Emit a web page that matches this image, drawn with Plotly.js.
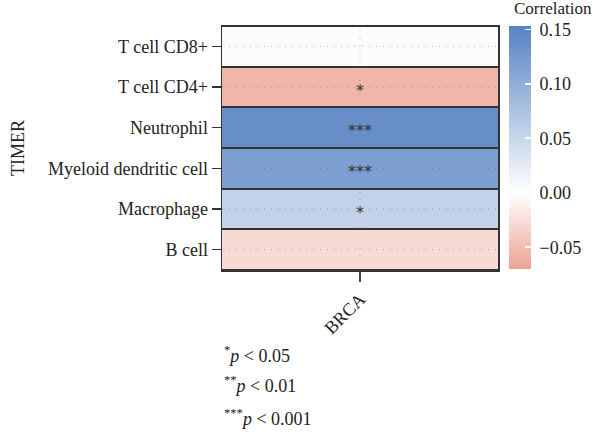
<!DOCTYPE html>
<html>
<head>
<meta charset="utf-8">
<script src="https://cdn.plot.ly/plotly-3.0.1.min.js"></script>
<style>html,body{margin:0;padding:0;background:#fff;}#chart{width:600px;height:434px;}</style>
</head>
<body>
<div id="chart"></div>
<script>
// Data
const cellTypes = ["T cell CD8+", "T cell CD4+", "Neutrophil", "Myeloid dendritic cell", "Macrophage", "B cell"];
const cancers = ["BRCA"];
const correlations = [0.004, -0.055, 0.138, 0.118, 0.055, -0.028];
const stars = ["", "*", "***", "***", "*", ""];
const cbTickVals = [-0.05, 0.00, 0.05, 0.10, 0.15];
const cbTickText = ["\u22120.05", "0.00", "0.05", "0.10", "0.15"];
const legendLines = ["<sup>*</sup><i>p</i> &lt; 0.05", "<sup>**</sup><i>p</i> &lt; 0.01", "<sup>***</sup><i>p</i> &lt; 0.001"];

const cmin = -0.070, cmax = 0.153;
const zeroPos = (0 - cmin) / (cmax - cmin);
const FONT = "Liberation Serif, Times New Roman, serif";
const FS = 18;

const trace = {
  type: "heatmap",
  x: cancers,
  y: cellTypes,
  z: correlations.map(v => [v]),
  zmin: cmin, zmax: cmax,
  colorscale: [[0, "#EBA393"], [zeroPos, "#FFFFFF"], [1, "#5782C3"]],
  ygap: 2,
  hoverinfo: "skip",
  colorbar: {
    thickness: 22, thicknessmode: "pixels",
    len: 243, lenmode: "pixels",
    x: 1.04, xanchor: "left", xpad: 0, xref: "paper",
    y: 1, yanchor: "top", ypad: 0,
    outlinewidth: 0,
    tickvals: cbTickVals, ticktext: cbTickText.map(t => "\u00a0" + t),
    ticks: "inside", ticklen: 6, tickcolor: "#fff", tickwidth: 1.5,
    tickfont: {family: FONT, size: FS, color: "#222"}
  }
};

const shapes = [];
const dotLine = {color: "rgba(90,90,90,0.45)", width: 1, dash: "1px,6px"};
cellTypes.forEach((c, i) => {
  shapes.push({type: "line", xref: "x domain", yref: "y", x0: 0, x1: 1, y0: i, y1: i,
    line: dotLine, layer: "above"});
});
shapes.push({type: "line", xref: "x", yref: "y domain", x0: 0, x1: 0, y0: 0, y1: 1,
  line: dotLine, layer: "above"});

const annotations = [];
cellTypes.forEach((c, i) => {
  if (stars[i]) annotations.push({x: cancers[0], y: c, xref: "x", yref: "y", text: stars[i],
    showarrow: false, font: {family: "DejaVu Sans, sans-serif", size: 16, color: "#333"}, yshift: -3});
});
const legendY = [-0.345, -0.47, -0.605];
legendLines.forEach((t, i) => {
  annotations.push({xref: "paper", yref: "paper", x: 0.0, xanchor: "left",
    y: legendY[i], yanchor: "middle", text: t, showarrow: false,
    font: {family: FONT, size: FS, color: "#222"}});
});
annotations.push({xref: "paper", yref: "paper", x: 1.04, xanchor: "left", xshift: 3,
  y: 1, yanchor: "bottom", yshift: 6, text: "Correlation", showarrow: false,
  font: {family: FONT, size: 17, color: "#222"}});

const layout = {
  width: 600, height: 434,
  margin: {l: 222, r: 97, t: 26, b: 164},
  paper_bgcolor: "#fff",
  plot_bgcolor: "#333",
  font: {family: FONT, size: FS, color: "#222"},
  xaxis: {
    type: "category", showgrid: false, zeroline: false,
    showline: true, mirror: true, linecolor: "#333", linewidth: 1.5,
    ticks: "outside", ticklen: 10, tickcolor: "#444", tickwidth: 1.5,
    tickangle: -45, tickfont: {family: FONT, size: FS, color: "#222"}
  },
  yaxis: {
    type: "category", autorange: "reversed", showgrid: false, zeroline: false,
    showline: true, mirror: true, linecolor: "#333", linewidth: 1.5,
    ticks: "outside", ticklen: 9, tickcolor: "#333", tickwidth: 1.5,
    tickfont: {family: FONT, size: FS, color: "#222"},
    title: {text: "TIMER", font: {family: FONT, size: FS, color: "#222"}, standoff: 18}
  },
  shapes: shapes,
  annotations: annotations,
  showlegend: false
};

Plotly.newPlot("chart", [trace], layout, {displayModeBar: false, staticPlot: true});
</script>
</body>
</html>
